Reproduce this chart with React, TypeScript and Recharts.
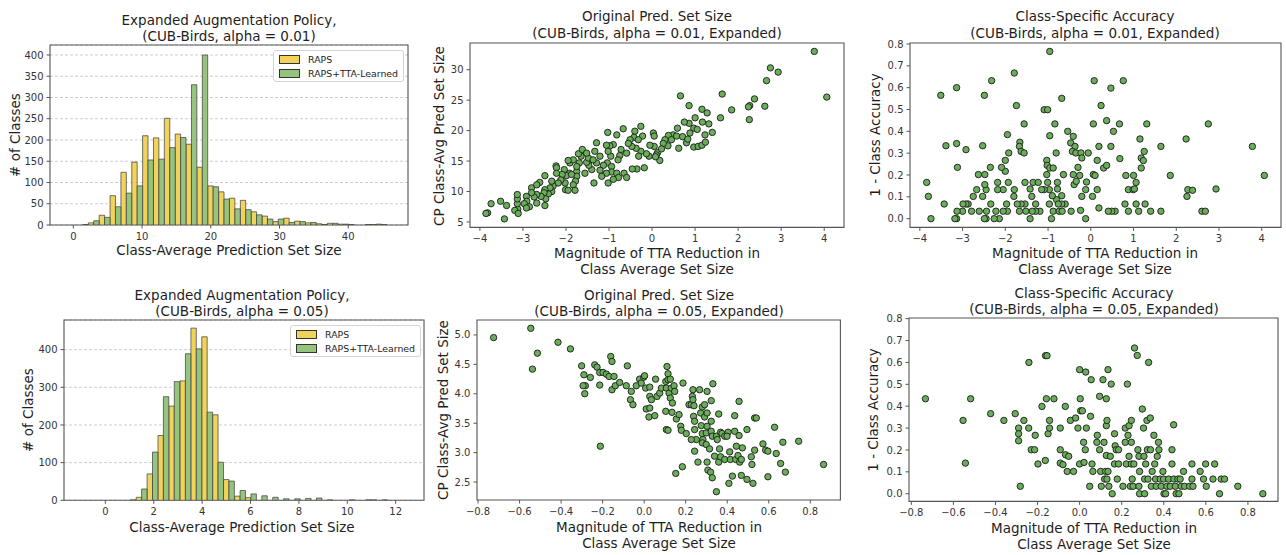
import React from 'react';
import { BarChart, Bar, XAxis, YAxis, CartesianGrid, ReferenceArea, ScatterChart, Scatter } from 'recharts';

// ---- histogram data (bin centres + counts per method) ----
const hist01Bins = [1.39, 2.97, 4.55, 6.13, 7.71, 9.29, 10.87, 12.45, 14.03, 15.61, 17.19, 18.77, 20.35, 21.93, 23.51, 25.09, 26.67, 28.25, 29.83, 31.41, 32.99, 34.57, 36.15, 37.73, 39.31, 40.89, 42.47, 44.05, 45.63];
const hist01Raps = [0, 5, 23, 69, 124, 148, 210, 205, 251, 214, 190, 136, 92, 78, 63, 58, 31, 21, 8, 16, 9, 5, 3, 4, 2, 1, 0, 1, 1];
const hist01Tta = [1, 10, 18, 43, 75, 92, 153, 155, 182, 206, 330, 400, 90, 61, 38, 36, 24, 14, 14, 6, 8, 6, 1, 4, 2, 0, 1, 2, 0];

const hist05Bins = [1.04, 1.5, 1.95, 2.4, 2.85, 3.31, 3.76, 4.21, 4.66, 5.11, 5.57, 6.02, 6.47, 6.92, 7.37, 7.83, 8.28, 8.73, 9.18, 9.63, 10.09, 10.54, 10.99, 11.44, 11.89];
const hist05Raps = [0, 8, 70, 172, 250, 317, 457, 434, 227, 55, 11, 7, 0, 0, 0, 0, 0, 0, 0, 0, 0, 0, 1, 0, 0];
const hist05Tta = [1, 30, 128, 275, 315, 389, 402, 234, 101, 51, 26, 17, 12, 8, 4, 4, 5, 6, 1, 0, 1, 0, 1, 1, 0];

const hist01XTicks = [0, 10, 20, 30, 40];
const hist01YTicks = [0, 50, 100, 150, 200, 250, 300, 350, 400];
const hist05XTicks = [0, 2, 4, 6, 8, 10, 12];
const hist05YTicks = [0, 100, 200, 300, 400];

// ---- scatter data: [TTA reduction, value] ----
const pred01: [number, number][] = [
  [3.77, 33.0], [4.06, 25.5], [2.75, 30.3], [2.93, 29.6], [2.66, 28.2], [2.62, 24.0], [2.38, 25.2], [2.27, 24.1], [2.24, 23.9], [2.26, 21.8],
  [1.85, 23.4], [1.63, 26.0], [1.59, 22.1], [0.66, 25.7], [0.86, 24.1], [1.16, 23.5], [1.28, 22.9], [1.0, 22.1], [0.97, 20.4], [1.05, 20.2],
  [1.17, 21.4], [1.32, 21.1], [1.4, 19.7], [1.23, 19.3], [0.86, 21.2], [0.75, 21.4], [0.59, 20.4], [0.88, 19.6], [0.49, 19.3], [0.38, 19.2],
  [0.57, 19.1], [0.71, 19.0], [0.8, 18.0], [0.97, 17.3], [1.07, 17.4], [1.16, 17.6], [1.24, 18.1], [0.83, 18.6], [0.62, 17.1], [0.45, 18.5],
  [0.37, 17.5], [0.3, 18.5], [0.26, 17.9], [0.13, 16.4], [0.05, 17.4], [0.22, 17.0], [0.1, 16.0], [0.18, 15.1], [0.08, 15.7], [-0.07, 15.8],
  [0.03, 19.6], [0.05, 19.1], [-0.05, 17.6], [-0.13, 16.2], [-0.18, 13.9], [-0.26, 16.6], [-0.22, 19.1], [-0.26, 20.7], [-0.4, 19.9], [-0.42, 18.9],
  [-0.32, 18.5], [-0.37, 17.1], [-0.31, 15.8], [-0.35, 13.7], [-0.46, 13.7], [-0.51, 18.5], [-0.47, 17.4], [-0.55, 17.9], [-0.67, 20.3], [-0.72, 16.9],
  [-0.75, 15.9], [-0.79, 15.2], [-0.82, 19.3], [-0.9, 17.7], [-1.03, 19.7], [-0.98, 17.5], [-1.06, 17.6], [-0.96, 15.8], [-1.02, 16.6], [-1.04, 14.7],
  [-0.94, 14.1], [-0.94, 13.2], [-1.06, 13.0], [-1.02, 11.4], [-0.82, 13.0], [-0.78, 12.3], [-0.65, 13.0], [-0.59, 12.3], [-1.13, 14.3], [-1.17, 12.5],
  [-1.21, 13.5], [-1.29, 18.0], [-1.33, 16.6], [-1.29, 14.7], [-1.35, 11.4], [-1.4, 13.6], [-1.47, 14.3], [-1.52, 14.8], [-1.48, 15.5], [-1.56, 13.0],
  [-1.65, 15.8], [-1.69, 14.7], [-1.71, 16.2], [-1.75, 13.3], [-1.75, 12.5], [-1.78, 11.7], [-1.83, 11.1], [-1.91, 14.7], [-1.92, 13.0], [-1.99, 12.6],
  [-2.02, 11.4], [-2.01, 10.3], [-1.79, 10.2], [-1.95, 10.2], [-2.04, 13.6], [-2.09, 12.8], [-2.12, 11.9], [-2.18, 11.4], [-2.23, 14.2], [-2.22, 13.9],
  [-2.3, 10.9], [-2.33, 10.0], [-2.37, 10.6], [-2.41, 9.6], [-2.49, 10.3], [-2.51, 9.8], [-2.49, 12.6], [-2.61, 11.5], [-2.47, 8.8], [-2.49, 7.7],
  [-2.58, 9.2], [-2.68, 9.5], [-2.74, 9.1], [-2.68, 8.1], [-2.8, 10.6], [-2.8, 9.8], [-2.92, 9.2], [-2.91, 8.4], [-2.97, 8.0], [-2.85, 7.5],
  [-2.92, 7.3], [-3.12, 7.1], [-3.13, 8.0], [-3.13, 8.8], [-3.13, 9.5], [-3.19, 6.9], [-3.11, 6.4], [-3.38, 7.7], [-3.52, 8.4], [-3.74, 8.0],
  [-3.43, 5.5], [-3.82, 6.5], [-3.86, 6.4], [-0.59, 16.3], [-1.21, 15.8], [-1.37, 15.2], [-1.62, 16.9], [-1.52, 16.3], [-1.83, 15.2], [-1.95, 15.1],
  [-1.87, 12.8], [-1.75, 14.1], [-2.22, 13.0], [-2.33, 11.7], [-2.68, 11.1], [-0.9, 12.0],
];

const acc01: [number, number][] = [
  [-0.96, 0.766], [-1.79, 0.667], [-2.32, 0.632], [-3.14, 0.6], [-3.51, 0.565], [-2.49, 0.565], [-1.74, 0.518], [-1.09, 0.499], [-1.01, 0.499], [-0.68, 0.551],
  [0.08, 0.632], [0.76, 0.632], [0.47, 0.598], [0.24, 0.518], [0.37, 0.449], [0.06, 0.434], [0.67, 0.434], [1.31, 0.434], [2.75, 0.434], [-1.56, 0.434],
  [-0.84, 0.434], [-0.54, 0.4], [-0.41, 0.377], [-0.96, 0.38], [-1.95, 0.385], [-1.66, 0.35], [-3.39, 0.334], [-3.14, 0.344], [-2.92, 0.316], [-2.53, 0.334],
  [-1.67, 0.331], [-1.63, 0.308], [-1.56, 0.301], [-1.92, 0.301], [-2.0, 0.267], [-2.0, 0.217], [-2.09, 0.235], [-2.35, 0.235], [-3.12, 0.235], [-0.47, 0.347],
  [-0.37, 0.331], [-0.43, 0.308], [-0.35, 0.301], [-0.23, 0.301], [-0.06, 0.301], [-0.21, 0.278], [-0.3, 0.235], [-0.41, 0.202], [-0.39, 0.156], [-0.26, 0.198],
  [-0.34, 0.171], [-0.81, 0.301], [-1.03, 0.267], [-1.02, 0.244], [-0.96, 0.232], [-0.88, 0.232], [-1.03, 0.202], [-0.64, 0.202], [-1.01, 0.166], [-0.97, 0.133],
  [-1.09, 0.133], [-1.15, 0.133], [-0.78, 0.166], [-0.78, 0.136], [-0.68, 0.105], [-0.8, 0.087], [0.19, 0.331], [0.15, 0.267], [0.3, 0.232], [0.37, 0.244],
  [0.47, 0.331], [0.53, 0.4], [0.68, 0.275], [0.82, 0.198], [1.0, 0.198], [1.06, 0.166], [1.15, 0.365], [1.18, 0.278], [1.23, 0.266], [1.25, 0.308],
  [1.18, 0.232], [1.64, 0.331], [1.86, 0.198], [2.23, 0.365], [2.27, 0.133], [2.38, 0.13], [2.25, 0.102], [2.93, 0.136], [3.78, 0.331], [4.06, 0.198],
  [2.6, 0.034], [2.68, 0.034], [1.64, 0.034], [1.4, 0.034], [1.27, 0.067], [1.12, 0.034], [1.06, 0.067], [0.88, 0.034], [0.8, 0.067], [0.88, 0.133],
  [0.99, 0.133], [1.02, 0.136], [0.57, 0.034], [0.49, 0.034], [0.41, 0.034], [0.19, 0.049], [0.06, 0.202], [0.1, 0.198], [-0.1, 0.168], [-0.12, 0.133],
  [0.04, 0.102], [0.15, 0.133], [-0.21, 0.102], [-0.24, 0.038], [-0.12, 0.0], [-0.46, 0.034], [-0.6, 0.067], [-0.68, 0.067], [-0.76, 0.067], [-0.88, 0.034],
  [-0.74, 0.034], [-0.67, 0.034], [-0.92, 0.0], [-0.97, 0.067], [-0.9, 0.105], [-1.19, 0.034], [-1.29, 0.067], [-1.29, 0.034], [-1.37, 0.034], [-1.38, 0.102],
  [-1.42, 0.136], [-1.35, 0.166], [-1.23, 0.166], [-1.54, 0.166], [-1.54, 0.067], [-1.42, 0.0], [-1.52, 0.034], [-1.67, 0.034], [-1.63, 0.067], [-1.72, 0.067],
  [-1.79, 0.133], [-1.8, 0.102], [-1.93, 0.166], [-1.97, 0.067], [-1.95, 0.034], [-2.05, 0.133], [-2.05, 0.034], [-2.14, 0.0], [-2.26, 0.0], [-2.22, 0.034],
  [-2.18, 0.133], [-2.18, 0.166], [-2.34, 0.067], [-2.44, 0.034], [-2.45, 0.0], [-2.49, 0.0], [-2.45, 0.133], [-2.48, 0.156], [-2.48, 0.202], [-2.53, 0.102],
  [-2.61, 0.034], [-2.63, 0.202], [-2.67, 0.133], [-2.75, 0.102], [-2.79, 0.034], [-2.87, 0.067], [-2.92, 0.067], [-2.99, 0.067], [-3.0, 0.034], [-3.13, 0.034],
  [-3.14, 0.0], [-3.18, 0.0], [-3.43, 0.067], [-3.74, 0.0], [-3.8, 0.102], [-3.84, 0.166],
];

const pred05: [number, number][] = [
  [-0.725, 4.955], [-0.546, 5.113], [-0.514, 4.69], [-0.538, 4.419], [-0.415, 4.876], [-0.355, 4.763], [-0.301, 4.475], [-0.29, 4.323], [-0.283, 4.137], [-0.294, 4.137],
  [-0.286, 4.001], [-0.259, 4.278], [-0.238, 4.492], [-0.227, 4.453], [-0.214, 4.362], [-0.198, 4.362], [-0.182, 4.334], [-0.169, 4.295], [-0.214, 4.148], [-0.211, 3.109],
  [-0.161, 4.633], [-0.155, 4.549], [-0.145, 4.295], [-0.155, 4.069], [-0.139, 4.137], [-0.118, 4.193], [-0.086, 4.137], [-0.081, 4.475], [-0.062, 4.041], [-0.066, 3.9],
  [-0.054, 3.815], [-0.038, 4.137], [-0.022, 4.249], [-0.014, 4.182], [-0.002, 4.283], [0.002, 4.306], [0.007, 4.097], [0.027, 4.114], [0.027, 3.956], [0.035, 3.9],
  [0.01, 3.742], [0.027, 3.758], [0.023, 3.606], [0.051, 3.629], [0.055, 4.249], [0.062, 3.956], [0.075, 4.012], [0.083, 4.097], [0.104, 4.21], [0.115, 4.238],
  [0.11, 4.464], [0.115, 4.34], [0.126, 4.249], [0.107, 4.097], [0.12, 4.012], [0.131, 4.097], [0.144, 4.137], [0.147, 4.041], [0.126, 3.928], [0.136, 3.843],
  [0.104, 3.702], [0.134, 3.685], [0.107, 3.392], [0.115, 3.38], [0.155, 3.572], [0.168, 3.646], [0.187, 4.182], [0.176, 3.448], [0.179, 3.38], [0.203, 3.324],
  [0.216, 3.815], [0.227, 3.815], [0.235, 4.069], [0.232, 3.956], [0.235, 3.9], [0.24, 3.798], [0.238, 3.617], [0.243, 3.533], [0.243, 3.392], [0.251, 3.222],
  [0.227, 3.222], [0.243, 3.025], [0.259, 2.839], [0.275, 3.459], [0.28, 3.324], [0.283, 3.222], [0.28, 3.166], [0.272, 3.674], [0.267, 4.069], [0.28, 3.776],
  [0.291, 3.815], [0.291, 3.606], [0.303, 4.041], [0.303, 3.674], [0.303, 3.448], [0.299, 3.335], [0.299, 3.138], [0.303, 2.839], [0.307, 2.703], [0.315, 3.064],
  [0.32, 2.669], [0.328, 2.573], [0.323, 3.533], [0.323, 3.363], [0.328, 3.279], [0.323, 3.883], [0.331, 4.17], [0.339, 2.94], [0.348, 2.336], [0.348, 3.279],
  [0.352, 3.222], [0.359, 3.657], [0.363, 3.064], [0.359, 2.839], [0.368, 3.346], [0.375, 3.324], [0.368, 2.929], [0.388, 2.884], [0.388, 3.279], [0.404, 3.346],
  [0.399, 3.279], [0.408, 2.478], [0.412, 3.013], [0.415, 2.884], [0.425, 2.601], [0.436, 3.629], [0.436, 3.363], [0.441, 2.884], [0.444, 3.109], [0.452, 2.951],
  [0.457, 3.871], [0.457, 3.29], [0.46, 2.839], [0.468, 2.884], [0.473, 3.081], [0.468, 2.613], [0.495, 3.392], [0.495, 2.545], [0.516, 2.929], [0.519, 2.799],
  [0.524, 2.478], [0.532, 3.589], [0.532, 3.042], [0.54, 3.589], [0.572, 3.149], [0.585, 3.042], [0.596, 3.025], [0.596, 2.59], [0.628, 3.431], [0.636, 2.985],
  [0.657, 2.816], [0.668, 3.177], [0.68, 2.669], [0.744, 3.194], [0.864, 2.799], [0.152, 2.647], [0.184, 2.76],
];

const acc05: [number, number][] = [
  [-0.733, 0.434], [-0.518, 0.434], [-0.554, 0.335], [-0.543, 0.14], [-0.423, 0.366], [-0.36, 0.335], [-0.306, 0.366], [-0.29, 0.3], [-0.29, 0.274], [-0.29, 0.242],
  [-0.282, 0.034], [-0.265, 0.335], [-0.242, 0.3], [-0.241, 0.6], [-0.23, 0.201], [-0.214, 0.201], [-0.211, 0.267], [-0.198, 0.136], [-0.179, 0.399], [-0.163, 0.152],
  [-0.162, 0.631], [-0.155, 0.631], [-0.158, 0.434], [-0.15, 0.274], [-0.143, 0.3], [-0.143, 0.335], [-0.122, 0.434], [-0.092, 0.3], [-0.092, 0.201], [-0.092, 0.14],
  [-0.079, 0.133], [-0.068, 0.399], [-0.067, 0.178], [-0.059, 0.102], [-0.052, 0.171], [-0.044, 0.335], [-0.029, 0.102], [-0.019, 0.346], [-0.008, 0.3], [0.0, 0.567],
  [0.003, 0.434], [0.005, 0.379], [0.0, 0.136], [0.013, 0.379], [0.019, 0.235], [0.021, 0.143], [0.029, 0.556], [0.027, 0.201], [0.032, 0.3], [0.048, 0.034],
  [0.052, 0.354], [0.055, 0.521], [0.059, 0.136], [0.063, 0.102], [0.082, 0.235], [0.084, 0.267], [0.095, 0.445], [0.095, 0.201], [0.1, 0.102], [0.103, 0.034],
  [0.111, 0.521], [0.116, 0.235], [0.119, 0.067], [0.124, 0.102], [0.127, 0.434], [0.127, 0.311], [0.127, 0.175], [0.13, 0.335], [0.135, 0.567], [0.135, 0.102],
  [0.13, 0.067], [0.139, 0.034], [0.146, 0.171], [0.15, 0.501], [0.155, 0.0], [0.166, 0.274], [0.166, 0.136], [0.169, 0.219], [0.174, 0.201], [0.179, 0.067],
  [0.185, 0.201], [0.185, 0.136], [0.206, 0.034], [0.217, 0.3], [0.217, 0.235], [0.222, 0.136], [0.227, 0.501], [0.23, 0.267], [0.235, 0.311], [0.235, 0.171],
  [0.241, 0.034], [0.246, 0.136], [0.246, 0.335], [0.246, 0.235], [0.25, 0.067], [0.254, 0.034], [0.258, 0.136], [0.261, 0.666], [0.274, 0.632], [0.277, 0.201],
  [0.282, 0.171], [0.282, 0.034], [0.285, 0.102], [0.285, 0.0], [0.298, 0.387], [0.304, 0.3], [0.306, 0.171], [0.309, 0.067], [0.309, 0.0], [0.314, 0.136],
  [0.32, 0.335], [0.325, 0.067], [0.328, 0.6], [0.322, 0.201], [0.336, 0.346], [0.337, 0.201], [0.341, 0.034], [0.345, 0.102], [0.353, 0.267], [0.357, 0.136],
  [0.361, 0.067], [0.364, 0.034], [0.369, 0.171], [0.375, 0.235], [0.377, 0.201], [0.383, 0.067], [0.388, 0.034], [0.396, 0.102], [0.399, 0.067], [0.401, 0.0],
  [0.409, 0.0], [0.415, 0.034], [0.423, 0.067], [0.431, 0.034], [0.439, 0.136], [0.439, 0.201], [0.447, 0.315], [0.448, 0.067], [0.455, 0.034], [0.459, 0.0],
  [0.467, 0.067], [0.472, 0.0], [0.478, 0.067], [0.483, 0.034], [0.494, 0.102], [0.499, 0.034], [0.523, 0.034], [0.534, 0.136], [0.534, 0.067], [0.539, 0.034],
  [0.573, 0.102], [0.589, 0.067], [0.599, 0.136], [0.602, 0.034], [0.634, 0.067], [0.642, 0.136], [0.665, 0.0], [0.673, 0.067], [0.689, 0.067], [0.752, 0.034],
  [0.871, 0.0],
];

const predTicks01 = [5, 10, 15, 20, 25, 30];
const accTicks = [0, 0.1, 0.2, 0.3, 0.4, 0.5, 0.6, 0.7, 0.8];
const reduceTicks01 = [-4, -3, -2, -1, 0, 1, 2, 3, 4];
const reduceTicks05 = [-0.8, -0.6, -0.4, -0.2, 0, 0.2, 0.4, 0.6, 0.8];
const predTicks05 = [2.5, 3.0, 3.5, 4.0, 4.5, 5.0];

// ---- styling ----
const FONT = '"DejaVu Sans", "Liberation Sans", sans-serif';
const YELLOW = '#f1d35c';
const GREEN_BAR = '#96c47f';
const GREEN_DOT = '#6aad5a';
const FRAME = '#555';
const TEXT = '#1e1e1e';

const YW = 44;
const XH = 24;
const M = 6;

type Box = { l: number; t: number; r: number; b: number };

function fmt(digits: number) {
  return (v: number) => {
    const s = Math.abs(v).toFixed(digits);
    return v < -1e-9 ? '\u2212' + s : s;
  };
}

const tickStyle = { fontSize: 10, fill: '#333', fontFamily: FONT };

function frameStyle(box: Box): React.CSSProperties {
  return { position: 'absolute', left: box.l - YW, top: box.t - M };
}

function size(box: Box) {
  return { width: box.r - box.l + YW + M, height: box.b - box.t + 2 * M + XH };
}

function Lines({ x, y, lines, fs = 13.5 }: { x: number; y: number; lines: string[]; fs?: number }) {
  const lh = 16.5;
  return (
    <div style={{ position: 'absolute', left: x, top: y - lh / 2, transform: 'translateX(-50%)', textAlign: 'center', whiteSpace: 'nowrap', fontSize: fs, lineHeight: lh + 'px', color: TEXT }}>
      {lines.map((s, i) => <div key={i}>{s}</div>)}
    </div>
  );
}

function YLabel({ x, y, text }: { x: number; y: number; text: string }) {
  return (
    <div style={{ position: 'absolute', left: x, top: y, transform: 'translate(-50%, -50%) rotate(-90deg)', whiteSpace: 'nowrap', fontSize: 13.5, lineHeight: '16px', color: TEXT }}>
      {text}
    </div>
  );
}

function HistLegend({ left, top, width }: { left: number; top: number; width: number }) {
  const row = (color: string, label: string) => (
    <div style={{ display: 'flex', alignItems: 'center', height: 14 }}>
      <div style={{ width: 19, height: 7, background: color, border: '1px solid #333', marginRight: 8 }} />
      <span>{label}</span>
    </div>
  );
  return (
    <div style={{ position: 'absolute', left, top, width, boxSizing: 'border-box', padding: '1px 4px 1px 5px', background: 'rgba(255,255,255,0.85)', border: '1px solid #d4d4d4', borderRadius: 3, fontSize: 9.4, color: TEXT }}>
      {row(YELLOW, 'RAPS')}
      {row(GREEN_BAR, 'RAPS+TTA-Learned')}
    </div>
  );
}

function Dot(props: any) {
  const { cx, cy } = props;
  if (cx == null || cy == null) return null;
  return <circle cx={cx} cy={cy} r={3.2} fill={GREEN_DOT} stroke="#1c1c1c" strokeWidth={0.9} />;
}

function Histogram({ box, bins, raps, tta, xDomain, yDomain, xTicks, yTicks }: {
  box: Box; bins: number[]; raps: number[]; tta: number[];
  xDomain: [number, number]; yDomain: [number, number]; xTicks: number[]; yTicks: number[];
}) {
  const data = bins.map((c, i) => ({ c, raps: raps[i], tta: tta[i] }));
  const { width, height } = size(box);
  return (
    <div style={frameStyle(box)}>
      <BarChart width={width} height={height} data={data} margin={{ top: M, right: M, bottom: M, left: 0 }} barGap={0} barCategoryGap={0}>
        <CartesianGrid vertical={false} stroke="#cfcfcf" strokeDasharray="3 2" />
        <XAxis type="number" dataKey="c" domain={xDomain} allowDataOverflow ticks={xTicks} interval={0} height={XH}
          tick={tickStyle} tickLine={{ stroke: FRAME }} axisLine={false} tickSize={3.5} tickMargin={4} tickFormatter={fmt(0)} />
        <YAxis type="number" domain={yDomain} allowDataOverflow ticks={yTicks} interval={0} width={YW}
          tick={tickStyle} tickLine={{ stroke: FRAME }} axisLine={false} tickSize={3.5} tickMargin={3} />
        <Bar dataKey="raps" fill={YELLOW} stroke="#3b3b3b" strokeWidth={0.7} barSize={5.4} isAnimationActive={false} />
        <Bar dataKey="tta" fill={GREEN_BAR} stroke="#3b3b3b" strokeWidth={0.7} barSize={5.4} isAnimationActive={false} />
        <ReferenceArea x1={xDomain[0]} x2={xDomain[1]} y1={yDomain[0]} y2={yDomain[1]} fill="none" stroke={FRAME} strokeWidth={1.1} ifOverflow="visible" />
      </BarChart>
    </div>
  );
}

function Scatterplot({ box, points, xDomain, yDomain, xTicks, yTicks, xDigits, yDigits }: {
  box: Box; points: [number, number][]; xDomain: [number, number]; yDomain: [number, number];
  xTicks: number[]; yTicks: number[]; xDigits: number; yDigits: number;
}) {
  const data = points.map(([x, y]) => ({ x, y }));
  const { width, height } = size(box);
  return (
    <div style={frameStyle(box)}>
      <ScatterChart width={width} height={height} margin={{ top: M, right: M, bottom: M, left: 0 }}>
        <XAxis type="number" dataKey="x" domain={xDomain} allowDataOverflow ticks={xTicks} interval={0} height={XH}
          tick={tickStyle} tickLine={{ stroke: FRAME }} axisLine={false} tickSize={3.5} tickMargin={4} tickFormatter={fmt(xDigits)} />
        <YAxis type="number" dataKey="y" domain={yDomain} allowDataOverflow ticks={yTicks} interval={0} width={YW}
          tick={tickStyle} tickLine={{ stroke: FRAME }} axisLine={false} tickSize={3.5} tickMargin={3} tickFormatter={fmt(yDigits)} />
        <Scatter data={data} shape={Dot} isAnimationActive={false} />
        <ReferenceArea x1={xDomain[0]} x2={xDomain[1]} y1={yDomain[0]} y2={yDomain[1]} fill="none" stroke={FRAME} strokeWidth={1.1} ifOverflow="visible" />
      </ScatterChart>
    </div>
  );
}

const reduceLabel = ['Magnitude of TTA Reduction in', 'Class Average Set Size'];

export default function App() {
  return (
    <div style={{ position: 'absolute', left: 0, top: 0, width: 1286, height: 555, background: '#fff', fontFamily: FONT, overflow: 'hidden' }}>
      {/* top row: alpha = 0.01 */}
      <Histogram box={{ l: 50, t: 45, r: 408, b: 225 }} bins={hist01Bins} raps={hist01Raps} tta={hist01Tta}
        xDomain={[-3.4, 48.7]} yDomain={[0, 423.5]} xTicks={hist01XTicks} yTicks={hist01YTicks} />
      <HistLegend left={273} top={50} width={131} />
      <Lines x={229} y={20} lines={['Expanded Augmentation Policy,', '(CUB-Birds, alpha = 0.01)']} />
      <Lines x={229} y={250.5} lines={['Class-Average Prediction Set Size']} />
      <YLabel x={15} y={135} text="# of Classes" />

      <Scatterplot box={{ l: 470, t: 43.3, r: 844, b: 227.7 }} points={pred01}
        xDomain={[-4.23, 4.46]} yDomain={[4.11, 34.38]} xTicks={reduceTicks01} yTicks={predTicks01} xDigits={0} yDigits={0} />
      <Lines x={657} y={16.5} lines={['Original Pred. Set Size', '(CUB-Birds, alpha = 0.01, Expanded)']} />
      <Lines x={657} y={253} lines={reduceLabel} />
      <YLabel x={439} y={136} text="CP Class-Avg Pred Set Size" />

      <Scatterplot box={{ l: 910, t: 43.3, r: 1281, b: 227.7 }} points={acc01}
        xDomain={[-4.23, 4.45]} yDomain={[-0.04, 0.8046]} xTicks={reduceTicks01} yTicks={accTicks} xDigits={0} yDigits={1} />
      <Lines x={1095} y={16.5} lines={['Class-Specific Accuracy', '(CUB-Birds, alpha = 0.01, Expanded)']} />
      <Lines x={1095} y={253} lines={reduceLabel} />
      <YLabel x={875} y={135} text="1 - Class Accuracy" />

      {/* bottom row: alpha = 0.05 */}
      <Histogram box={{ l: 64, t: 320, r: 424, b: 500.3 }} bins={hist05Bins} raps={hist05Raps} tta={hist05Tta}
        xDomain={[-1.71, 13.17]} yDomain={[0, 478.6]} xTicks={hist05XTicks} yTicks={hist05YTicks} />
      <HistLegend left={290} top={325} width={131} />
      <Lines x={242} y={295} lines={['Expanded Augmentation Policy,', '(CUB-Birds, alpha = 0.05)']} />
      <Lines x={242} y={527} lines={['Class-Average Prediction Set Size']} />
      <YLabel x={28} y={410} text="# of Classes" />

      <Scatterplot box={{ l: 477.3, t: 320, r: 840.7, b: 500 }} points={pred05}
        xDomain={[-0.805, 0.945]} yDomain={[2.195, 5.254]} xTicks={reduceTicks05} yTicks={predTicks05} xDigits={1} yDigits={1} />
      <Lines x={659} y={295} lines={['Original Pred. Set Size', '(CUB-Birds, alpha = 0.05, Expanded)']} />
      <Lines x={659} y={527} lines={reduceLabel} />
      <YLabel x={443} y={410} text="CP Class-Avg Pred Set Size" />

      <Scatterplot box={{ l: 909.3, t: 318.3, r: 1278.3, b: 501.7 }} points={acc05}
        xDomain={[-0.811, 0.943]} yDomain={[-0.035, 0.803]} xTicks={reduceTicks05} yTicks={accTicks} xDigits={1} yDigits={1} />
      <Lines x={1094} y={293} lines={['Class-Specific Accuracy', '(CUB-Birds, alpha = 0.05, Expanded)']} />
      <Lines x={1094} y={528} lines={reduceLabel} />
      <YLabel x={873} y={410} text="1 - Class Accuracy" />
    </div>
  );
}
